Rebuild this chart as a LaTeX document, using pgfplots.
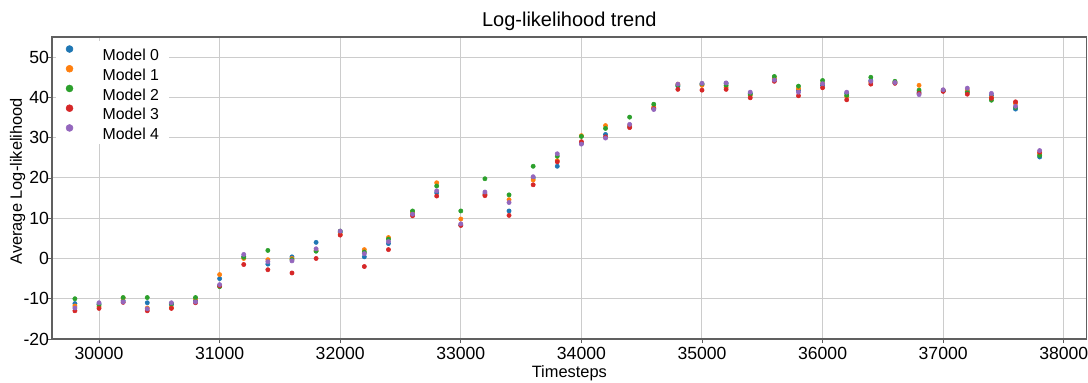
\documentclass[border=0pt]{standalone}
\usepackage{fontspec}
\setmainfont{Liberation Sans}
\usepackage{pgfplots}
\usepackage{pgfplotstable}
\pgfplotsset{compat=1.18}
\definecolor{C0}{HTML}{1F77B4}
\definecolor{C1}{HTML}{FF7F0E}
\definecolor{C2}{HTML}{2CA02C}
\definecolor{C3}{HTML}{D62728}
\definecolor{C4}{HTML}{9467BD}
\definecolor{gridc}{HTML}{CCCCCC}
\definecolor{framec}{HTML}{606060}
\pgfplotstableread{
t m0 m1 m2 m3 m4
29800 -11.2 -11.8 -10 -13 -12.3
30000 -11.3 -12 -11.5 -12.4 -11
30200 -10.5 -9.8 -9.7 -10.9 -10.8
30400 -11 -12.3 -9.7 -13 -12.5
30600 -11.5 -12.2 -11.2 -12.4 -11
30800 -10.5 -10 -9.7 -11 -10.8
31000 -5 -4 -7 -6.8 -6.5
31200 0.5 0 0.3 -1.5 1
31400 -1.4 -0.3 2 -2.8 -0.8
31600 0.4 0 -0.3 -3.6 -0.6
31800 4 2 1.8 0 2.4
32000 6.5 6 6.8 5.8 6.8
32200 0.4 2.2 1.6 -2 1.2
32400 3.7 5.2 4.8 2.2 4.2
32600 11 11.5 11.8 10.6 11
32800 16.3 18.8 18 15.5 16.8
33000 8.3 9.8 11.8 8.2 8.6
33200 16 15.8 19.8 15.6 16.5
33400 11.8 14.6 15.8 10.7 13.9
33600 20 19.5 22.9 18.3 20.3
33800 22.9 24.3 25.4 24 26
34000 28.6 30.5 30.3 29 28.4
34200 30.8 33 32.3 30.2 29.9
34400 32.8 33 35.1 32.5 33.3
34600 37.3 37.6 38.3 37.2 37
34800 42.8 43.3 43 42 43.3
35000 43.2 43 43.4 41.8 43.5
35200 43.5 42.5 43 42 43.6
35400 41 40.5 40.8 39.9 41.3
35600 44.5 44.8 45.2 44 44.3
35800 41.8 42.2 42.8 40.4 41.3
36000 43 43.5 44.2 42.4 43.4
36200 41 40.2 40.5 39.4 41.3
36400 44.2 43.8 45 43.3 44
36600 43.6 43.8 44 43.5 43.7
36800 41.3 43 41.8 41 40.7
37000 41.6 41.8 41.7 41.5 41.9
37200 41.5 41.8 41.2 40.8 42.3
37400 40.5 40 39.3 39.8 41
37600 37.1 38.5 37.5 38.9 37.8
37800 25.2 26 25.6 26.4 26.8
}\datatable
\begin{document}
\begin{tikzpicture}
\useasboundingbox (-39pt,-32.25pt) rectangle (777pt,254.25pt);
\begin{axis}[
  at={(0pt,0pt)}, anchor=south west,
  width=776pt, height=226.5pt, scale only axis,
  xmin=29610, xmax=38190, ymin=-20, ymax=55,
  xtick={30000,31000,...,38000},
  ytick={-20,-10,...,50},
  scaled x ticks=false, scaled y ticks=false,
  /pgf/number format/assume math mode=true,
  /pgf/number format/set thousands separator={},
  grid=major,
  major grid style={gridc, line width=0.75pt},
  axis line style={framec, line width=0.8pt},
  tick align=outside,
  major tick length=3pt,
  tick style={framec, line width=0.6pt},
  xtick pos=bottom, ytick pos=left,
  tick label style={font=\fontsize{13.2}{14}\selectfont, text=black},
  xticklabel style={anchor=base, yshift=-12pt},
  yticklabel style={anchor=east, xshift=4.25pt},
  title={Log-likelihood trend},
  title style={font=\fontsize{15}{17}\selectfont, at={(axis description cs:0.5,1)}, anchor=base, yshift=2pt},
  xlabel={Timesteps},
  xlabel style={font=\fontsize{12.3}{14}\selectfont, at={(axis description cs:0.5,0)}, anchor=base, yshift=-29pt},
  ylabel={Average Log-likelihood},
  ylabel style={font=\fontsize{12.3}{14}\selectfont, at={([xshift=-22.5pt,yshift=5pt]axis description cs:0,0.5)}, anchor=base},
  legend style={at={([xshift=3pt,yshift=-3pt]axis description cs:0,1)}, anchor=north west,
    draw=none, fill=white, font=\fontsize{11.9}{13}\selectfont,
    inner xsep=7.15pt, inner ysep=3pt, row sep=3.2pt, column sep=22pt,
    nodes={inner sep=0pt, text height=9pt, text depth=0pt}},
  legend cell align=left,
  legend image code/.code={\fill[#1] (0pt,4.3pt) circle (2.6pt);},
]
\addplot[only marks, mark=*, mark size=1.6pt, color=C0, mark options={draw=none, fill=C0}] table[x=t,y=m0]{\datatable};
\addlegendentry{Model 0}
\addplot[only marks, mark=*, mark size=1.6pt, color=C1, mark options={draw=none, fill=C1}] table[x=t,y=m1]{\datatable};
\addlegendentry{Model 1}
\addplot[only marks, mark=*, mark size=1.6pt, color=C2, mark options={draw=none, fill=C2}] table[x=t,y=m2]{\datatable};
\addlegendentry{Model 2}
\addplot[only marks, mark=*, mark size=1.6pt, color=C3, mark options={draw=none, fill=C3}] table[x=t,y=m3]{\datatable};
\addlegendentry{Model 3}
\addplot[only marks, mark=*, mark size=1.6pt, color=C4, mark options={draw=none, fill=C4}] table[x=t,y=m4]{\datatable};
\addlegendentry{Model 4}
\end{axis}
\end{tikzpicture}
\end{document}
